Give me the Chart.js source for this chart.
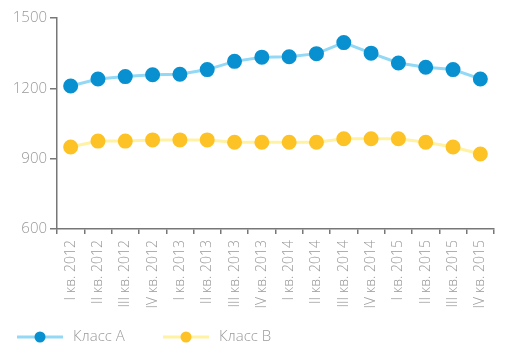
<!DOCTYPE html>
<html><head><meta charset="utf-8">
<script src="https://cdn.jsdelivr.net/npm/chart.js@4/dist/chart.umd.min.js"></script>
<style>html,body{margin:0;padding:0;background:#fff}#wrap{width:532px;height:357px}</style>
</head><body><div id="wrap"><canvas id="c" width="532" height="357"></canvas></div>
<script>
const categories = ["I кв. 2012","II кв. 2012","III кв. 2012","IV кв. 2012","I кв. 2013","II кв. 2013","III кв. 2013","IV кв. 2013","I кв. 2014","II кв. 2014","III кв. 2014","IV кв. 2014","I кв. 2015","II кв. 2015","III кв. 2015","IV кв. 2015"];
const classA = [1210,1240,1250,1258,1260,1280,1315,1333,1335,1348,1395,1350,1308,1290,1280,1240];
const classB = [950,975,975,980,980,980,970,970,970,970,985,985,985,970,950,920];
const seriesNames = ["Класс А","Класс В"];
const yTicks = [600,900,1200,1500];

const FONT = "'Open Sans', 'Lato', sans-serif";
const legendPlugin = {
  id: 'customLegend',
  afterDraw(chart) {
    const ctx = chart.ctx;
    const y = 337;
    const starts = [17, 163];
    chart.data.datasets.forEach((ds, i) => {
      const x0 = starts[i];
      ctx.save();
      ctx.strokeStyle = ds.borderColor; ctx.lineWidth = 3;
      ctx.beginPath(); ctx.moveTo(x0, y); ctx.lineTo(x0 + 46, y); ctx.stroke();
      ctx.fillStyle = ds.pointBackgroundColor;
      ctx.beginPath(); ctx.arc(x0 + 23, y, 5.5, 0, Math.PI * 2); ctx.fill();
      ctx.fillStyle = '#999';
      ctx.font = "300 15px " + FONT;
      ctx.textBaseline = 'middle';
      ctx.fillText(ds.label, x0 + 56, y);
      ctx.restore();
    });
  }
};

new Chart(document.getElementById('c'), {
  type: 'line',
  data: {
    labels: categories,
    datasets: [
      { label: seriesNames[0], data: classA, borderColor: '#93d8f5', borderWidth: 3,
        pointBackgroundColor: '#0890d0', pointBorderColor: '#0890d0', pointRadius: 6, pointHoverRadius: 6, tension: 0 },
      { label: seriesNames[1], data: classB, borderColor: '#fff2a2', borderWidth: 3,
        pointBackgroundColor: '#fdc326', pointBorderColor: '#fdc326', pointRadius: 6, pointHoverRadius: 6, tension: 0 }
    ]
  },
  options: {
    responsive: false, animation: false, devicePixelRatio: 1,
    layout: { padding: { top: 18, right: 38, left: 0, bottom: 0 } },
    plugins: { legend: { display: false }, tooltip: { enabled: false } },
    scales: {
      x: {
        offset: true,
        afterFit(s) { s.height = 128; },
        border: { color: '#777', width: 1.5 },
        grid: { display: true, drawOnChartArea: false, offset: true, tickLength: 5, color: '#777', lineWidth: 1.5 },
        ticks: { minRotation: 90, maxRotation: 90, autoSkip: false, padding: 6, color: '#999',
                 font: { family: FONT, size: 14, weight: 300 } }
      },
      y: {
        min: 600, max: 1500,
        afterFit(s) { s.width = 57; },
        afterBuildTicks(s) { s.ticks = yTicks.map(v => ({ value: v })); },
        border: { color: '#777', width: 1.5 },
        grid: { display: true, drawOnChartArea: false, tickLength: 7, color: '#777', lineWidth: 1.5 },
        ticks: { padding: 3, color: '#999', callback: v => String(v),
                 font: { family: FONT, size: 15, weight: 300 } }
      }
    }
  },
  plugins: [legendPlugin]
});
</script></body></html>
